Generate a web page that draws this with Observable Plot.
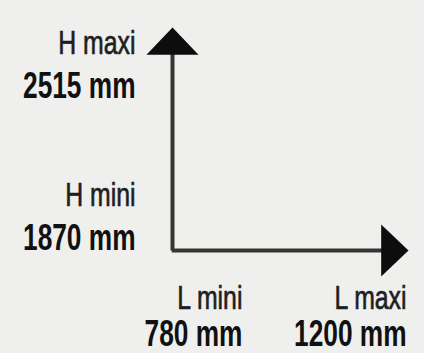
<!DOCTYPE html>
<html>
<head>
<meta charset="utf-8">
<script src="https://cdn.jsdelivr.net/npm/d3@7"></script>
<script src="https://cdn.jsdelivr.net/npm/@observablehq/plot@0.6"></script>
<style>
  html, body { margin: 0; padding: 0; background: #efefed; }
  #chart svg { display: block; }
</style>
</head>
<body>
<div id="chart"></div>
<script>
// Dimension labels and values
const heightLabels = ["H maxi", "H mini"];
const heightValues = [2515, 1870];
const lengthLabels = ["L mini", "L maxi"];
const lengthValues = [780, 1200];
const unit = "mm";

// Schematic scale extents (axis origin and arrow tips)
const xDomain = [601, 1205];
const yDomain = [1730, 2676];

const hRows = heightLabels.map((label, i) => ({label, value: heightValues[i], text: `${heightValues[i]} ${unit}`}));
const lRows = lengthLabels.map((label, i) => ({label, value: lengthValues[i], text: `${lengthValues[i]} ${unit}`}));

const x0 = xDomain[0], x1 = xDomain[1];
const y0 = yDomain[0], y1 = yDomain[1];

// filled arrowhead symbol: tip at origin, base below
const arrowHead = {
  draw(ctx, size) {
    const r = Math.sqrt(size / Math.PI);
    ctx.moveTo(0, 0);
    ctx.lineTo(r, r * 1.05);
    ctx.lineTo(-r, r * 1.05);
    ctx.closePath();
  }
};

const font = "'Liberation Sans', Arial, sans-serif";
const labelStyle = {fontSize: 34, fontWeight: "normal", fill: "#1e1e1e", stroke: "#1e1e1e", strokeWidth: 0.7, fontFamily: font};
const valueStyle = {fontSize: 36, fontWeight: "bold", fill: "#111", fontFamily: font};

const plot = Plot.plot({
  width: 424,
  height: 353,
  margin: 0,
  style: {background: "#efefed", fontFamily: font},
  x: {domain: xDomain, range: [172, 408], axis: null},
  y: {domain: yDomain, range: [250, 27], axis: null},
  marks: [
    // axes lines
    Plot.line([[x0, y0], [x0, y1 - 80]], {stroke: "#363636", strokeWidth: 4, strokeLinecap: "butt"}),
    Plot.line([[x0 - 2, y0], [x1 - 50, y0]], {stroke: "#363636", strokeWidth: 4, strokeLinecap: "butt"}),
    // arrowheads
    Plot.dot([[x0, y1]], {symbol: arrowHead, r: 26, fill: "#0d0d0d", stroke: "none"}),
    Plot.dot([[x1, y0]], {symbol: arrowHead, r: 26, rotate: 90, fill: "#0d0d0d", stroke: "none"}),
    // height labels
    Plot.text(hRows, {x: () => x0, y: "value", text: "label", textAnchor: "end", dx: -37, dy: -22, ...labelStyle}),
    Plot.text(hRows, {x: () => x0, y: "value", text: "text", textAnchor: "end", dx: -37, dy: 21, ...valueStyle}),
    // length labels
    Plot.text(lRows, {x: "value", y: () => y0, text: "label", textAnchor: "end", dy: 48, ...labelStyle}),
    Plot.text(lRows, {x: "value", y: () => y0, text: "text", textAnchor: "end", dy: 84, ...valueStyle})
  ]
});

// condense the lettering horizontally, anchored at each text's own position
plot.querySelectorAll("text").forEach((t) => {
  const tr = t.getAttribute("transform");
  if (tr) {
    t.setAttribute("transform", tr + " scale(0.73,1)");
  } else {
    const x = +t.getAttribute("x") || 0, y = +t.getAttribute("y") || 0;
    t.removeAttribute("x"); t.removeAttribute("y");
    t.setAttribute("transform", `translate(${x},${y}) scale(0.73,1)`);
  }
});
document.getElementById("chart").appendChild(plot);
</script>
</body>
</html>
